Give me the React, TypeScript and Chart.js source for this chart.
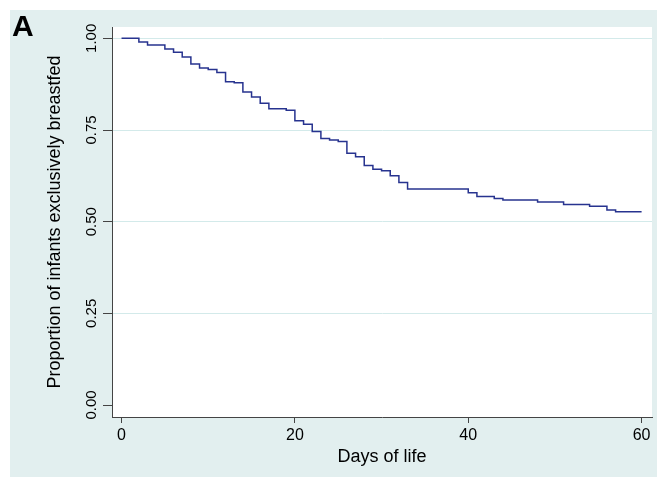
import React, { useEffect, useRef } from "react";
import { Chart, registerables } from "chart.js";

Chart.register(...registerables);

// Kaplan-Meier style step data (day of event, proportion still exclusively breastfed after it)
const days: number[] = [0, 2, 3, 5, 6, 7, 8, 9, 10, 11, 12, 13, 14, 15, 16, 17, 19, 20, 21, 22, 23, 24, 25, 26, 27, 28, 29, 30, 31, 32, 33, 40, 41, 43, 44, 48, 51, 54, 56, 57, 60];
const survival: number[] = [1.0, 0.99, 0.982, 0.971, 0.962, 0.949, 0.93, 0.919, 0.915, 0.907, 0.882, 0.879, 0.854, 0.84, 0.823, 0.808, 0.804, 0.775, 0.766, 0.746, 0.727, 0.723, 0.719, 0.687, 0.677, 0.653, 0.643, 0.639, 0.625, 0.607, 0.589, 0.579, 0.569, 0.563, 0.559, 0.554, 0.547, 0.542, 0.532, 0.527, 0.527];
const xTicks: number[] = [0, 20, 40, 60];
const yTicks: number[] = [0, 0.25, 0.5, 0.75, 1];

const xTitle = "Days of life";
const yTitle = "Proportion of infants exclusively breastfed";
const panelLabel = "A";

const FONT = "'Liberation Sans', Arial, Helvetica, sans-serif";
const TEAL = "#e2efef";
const GRID = "#d3eaea";
const AXIS = "#444444";
const LINE = "#27338f";

const bgPlugin = {
  id: "bgPlugin",
  beforeDraw(chart: any) {
    const { ctx, chartArea, width, height } = chart;
    ctx.save();
    ctx.fillStyle = "#ffffff";
    ctx.fillRect(0, 0, width, height);
    ctx.fillStyle = TEAL;
    ctx.fillRect(10, 10, width - 10, 467);
    ctx.fillStyle = "#ffffff";
    ctx.fillRect(chartArea.left, chartArea.top, chartArea.right - chartArea.left, chartArea.bottom - chartArea.top);
    ctx.restore();
  },
  afterDraw(chart: any) {
    const { ctx } = chart;
    ctx.save();
    ctx.fillStyle = "#000000";
    ctx.font = `bold 30px ${FONT}`;
    ctx.textBaseline = "alphabetic";
    ctx.textAlign = "left";
    ctx.fillText(panelLabel, 12, 36);
    ctx.restore();
  },
};

export default function App() {
  const ref = useRef<HTMLCanvasElement | null>(null);

  useEffect(() => {
    if (!ref.current) return;
    const points = days.map((d, i) => ({ x: d, y: survival[i] }));
    const chart = new Chart(ref.current, {
      type: "line",
      data: {
        datasets: [
          {
            data: points,
            borderColor: LINE,
            borderWidth: 1.5,
            pointRadius: 0,
            stepped: "before",
            fill: false,
            borderJoinStyle: "miter",
          } as any,
        ],
      },
      plugins: [bgPlugin],
      options: {
        animation: false,
        responsive: false,
        devicePixelRatio: 1,
        layout: { padding: { left: 0, right: 5, top: 27, bottom: 0 } },
        plugins: {
          legend: { display: false },
          tooltip: { enabled: false },
          title: { display: false },
        },
        scales: {
          x: {
            type: "linear",
            min: -1.1,
            max: 61.2,
            afterBuildTicks: (scale: any) => {
              scale.ticks = xTicks.map((v) => ({ value: v }));
            },
            afterFit: (scale: any) => {
              scale.height = 65;
            },
            grid: {
              drawOnChartArea: false,
              drawTicks: true,
              tickLength: 6,
              tickColor: AXIS,
              color: AXIS,
            },
            border: { display: true, color: AXIS, width: 1 },
            ticks: {
              padding: 2.5,
              color: "#000000",
              font: { family: FONT, size: 16 },
              maxRotation: 0,
              minRotation: 0,
              callback: (v: any) => String(v),
            },
            title: {
              display: true,
              text: xTitle,
              color: "#000000",
              font: { family: FONT, size: 18 },
              padding: { top: 0, bottom: 14 },
            },
          },
          y: {
            type: "linear",
            min: -0.0327,
            max: 1.031,
            afterBuildTicks: (scale: any) => {
              scale.ticks = yTicks.map((v) => ({ value: v }));
            },
            afterFit: (scale: any) => {
              scale.width = 112;
            },
            grid: {
              drawOnChartArea: true,
              drawTicks: true,
              tickLength: 9,
              tickColor: AXIS,
              lineWidth: 1,
              color: (c: any) => (c.tick && c.tick.value === 0 ? "rgba(0,0,0,0)" : GRID),
            },
            border: { display: true, color: AXIS, width: 1 },
            ticks: {
              padding: -3.5,
              color: "#000000",
              font: { family: FONT, size: 15 },
              minRotation: 90,
              maxRotation: 90,
              crossAlign: "center",
              callback: (v: any) => Number(v).toFixed(2),
            },
            title: {
              display: true,
              text: yTitle,
              color: "#000000",
              font: { family: FONT, size: 18 },
              padding: { top: 44, bottom: 0 },
            },
          },
        },
      } as any,
    });
    return () => chart.destroy();
  }, []);

  return (
    <div style={{ position: "absolute", left: 0, top: 0, width: 657, height: 482 }}>
      <canvas ref={ref} width={657} height={482} style={{ width: 657, height: 482, display: "block" }} />
    </div>
  );
}
